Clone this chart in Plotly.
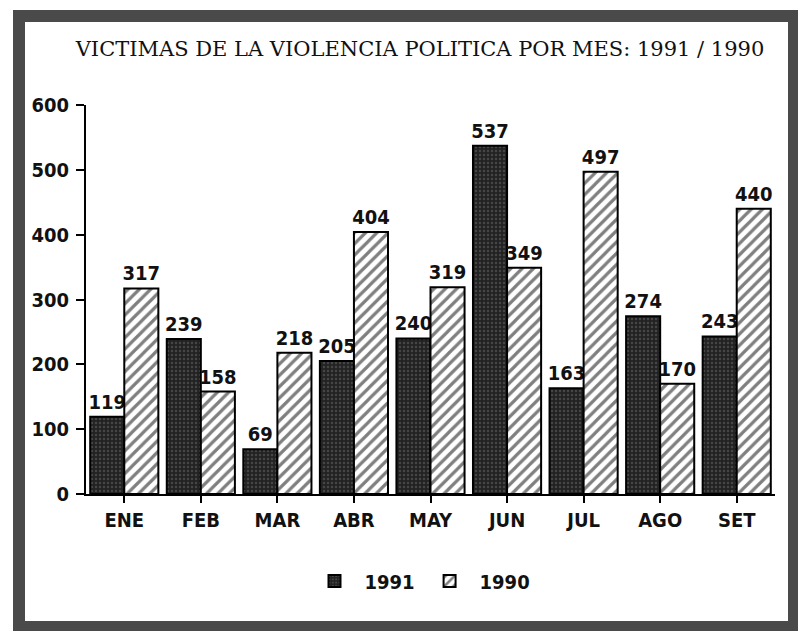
import plotly.graph_objects as go

months = ["ENE", "FEB", "MAR", "ABR", "MAY", "JUN", "JUL", "AGO", "SET"]
v1991 = [119, 239, 69, 205, 240, 537, 163, 274, 243]
v1990 = [317, 158, 218, 404, 319, 349, 497, 170, 440]
yticks = [0, 100, 200, 300, 400, 500, 600]
title = "VICTIMAS DE LA VIOLENCIA POLITICA POR MES: 1991 / 1990"

W, H = 798, 631
num_font = dict(family="DejaVu Sans Condensed, sans-serif",
                size=20, color="#111111", weight="bold")

fig = go.Figure()
fig.add_trace(go.Bar(
    x=months, y=v1991, name="1991",
    marker=dict(color="#2b2b2b", line=dict(color="#000000", width=2),
                pattern=dict(shape=".", fgcolor="#6a6a6a", bgcolor="#222222", size=4, solidity=0.3)),
    text=[str(v) for v in v1991], textposition="outside", textfont=num_font,
    constraintext="none", cliponaxis=False,
))
fig.add_trace(go.Bar(
    x=months, y=v1990, name="1990",
    marker=dict(color="#ffffff", line=dict(color="#000000", width=2),
                pattern=dict(shape="/", fgcolor="#000000", bgcolor="#ffffff", size=8, solidity=0.4)),
    text=[str(v) for v in v1990], textposition="outside", textfont=num_font,
    constraintext="none", cliponaxis=False,
))

def px_x(p):
    return p / W

def px_y(p):
    return 1 - p / H

fig.update_layout(
    width=W, height=H,
    margin=dict(l=0, r=0, t=0, b=0, pad=0, autoexpand=False),
    paper_bgcolor="#ffffff", plot_bgcolor="#ffffff",
    barmode="group", bargap=0.11, bargroupgap=0.0,
    title=dict(text=title, x=px_x(420), xanchor="center", y=px_y(49), yanchor="middle",
               font=dict(family="DejaVu Serif, Liberation Serif, serif", size=21, color="#111111")),
    xaxis=dict(domain=[px_x(86), px_x(775)], range=[-0.5, 8.5],
               showline=True, linecolor="#000000", linewidth=2,
               ticks="outside", ticklen=7, tickwidth=2, tickcolor="#000000",
               tickfont=num_font, showgrid=False, zeroline=False),
    yaxis=dict(domain=[px_y(494), px_y(105)], range=[0, 600],
               tickvals=yticks, ticktext=[str(t) for t in yticks],
               showline=True, linecolor="#000000", linewidth=2,
               ticks="outside", ticklen=8, tickwidth=2, tickcolor="#000000",
               ticklabelstandoff=3,
               tickfont=num_font, showgrid=False, zeroline=False),
    legend=dict(orientation="h", x=px_x(420), xanchor="center", y=px_y(581), yanchor="middle",
                font=num_font, itemwidth=50, bgcolor="rgba(0,0,0,0)"),
    shapes=[dict(type="rect", xref="paper", yref="paper",
                 x0=px_x(19), x1=px_x(794), y0=px_y(627), y1=px_y(16),
                 line=dict(color="#4a4a4a", width=12), fillcolor="rgba(0,0,0,0)")],
)

fig.write_html("out.html", config={"displayModeBar": False},
               post_script="document.body.style.margin='0';document.body.style.padding='0';")
